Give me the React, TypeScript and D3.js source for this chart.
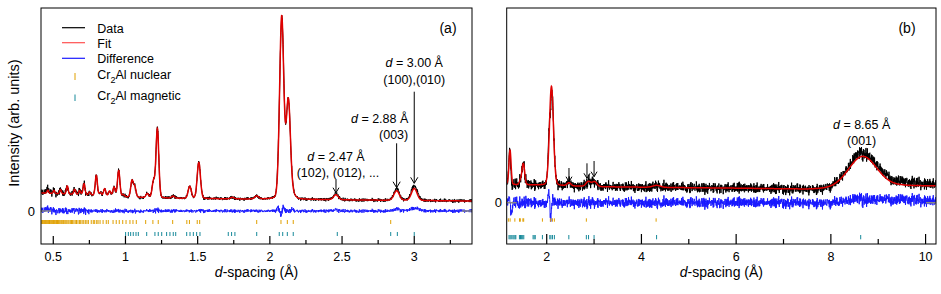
import React, { useMemo } from 'react';
import * as d3 from 'd3';

const W = 941;
const H = 294;
const FONT = '"Liberation Sans", Arial, Helvetica, sans-serif';

// ---------- Panel (a): Bragg peaks (d-spacing in Å, height in arb. units above background)
const peaksA_d = [0.462, 0.505, 0.55, 0.597, 0.648, 0.683, 0.713, 0.752, 0.798, 0.826, 0.856, 0.891, 0.921, 0.953, 0.985, 1.045, 1.064, 1.151, 1.194, 1.221, 1.33, 1.445, 1.508, 1.74, 1.909, 2.082, 2.128, 2.165, 2.458, 2.878, 3.0];
const peaksA_h = [3, 3, 4, 8, 5, 4, 11, 3, 20, 3, 7, 5, 9, 26, 2, 16, 10, 4, 16, 69, 2, 12, 36, 1.5, 3, 182, 98, 3, 5, 9.5, 12];
const bgA_d = [0.415, 0.6, 0.8, 1.0, 1.2, 1.5, 1.8, 2.3, 2.6, 3.0, 3.4];
const bgA_v = [18, 17, 15.5, 14, 13, 12.5, 12, 11.5, 11, 10.5, 10];
const residA_d = [0.46, 1.22, 1.5, 2.054, 2.077, 2.094, 2.158, 2.458, 2.878, 3.0];
const residA_h = [1.5, 1.5, 1, 3.4, -5.5, 4.5, 1.7, 1.3, 2, 2.7];
const residA_w = [0.02, 0.01, 0.01, 0.006, 0.005, 0.005, 0.008, 0.012, 0.02, 0.035];

// ---------- Panel (b)
const peaksB_d = [1.225, 1.445, 1.506, 2.1, 2.47, 2.88, 3.01, 4.32, 8.67];
const peaksB_h = [34, 4, 21, 99, 3, 5, 5, 2, 31];
const peaksB_w = [0.022, 0.025, 0.028, 0.042, 0.04, 0.05, 0.05, 0.08, 0.3];
const bgB_d = [1.155, 1.3, 2.0, 3.0, 4.0, 6.0, 7.5, 8.0, 9.5, 10.22];
const bgB_v = [19, 18, 17.5, 16, 15.5, 14.5, 13.5, 14, 17, 16.7];
const residB_d = [1.205, 1.255, 2.04, 2.088, 2.13, 8.6, 9.4];
const residB_h = [8, -12, 13, -18, 4, 1.5, 3];
const residB_w = [0.01, 0.012, 0.012, 0.012, 0.012, 0.25, 0.6];

// ---------- Reflection tick positions (Å)
const nuclearTicks = [0.42, 0.426, 0.431, 0.437, 0.441, 0.447, 0.452, 0.458, 0.463, 0.468, 0.474, 0.479, 0.485, 0.49, 0.496, 0.501, 0.507, 0.512, 0.518, 0.523, 0.529, 0.535, 0.54, 0.546, 0.553, 0.559, 0.566, 0.572, 0.58, 0.587, 0.594, 0.602, 0.609, 0.618, 0.626, 0.634, 0.643, 0.652, 0.661, 0.671, 0.681, 0.69, 0.7, 0.711, 0.722, 0.733, 0.743, 0.763, 0.777, 0.787, 0.801, 0.81, 0.824, 0.845, 0.867, 0.881, 0.914, 0.936, 0.957, 0.981, 1.004, 1.031, 1.052, 1.075, 1.14, 1.19, 1.227, 1.327, 1.425, 1.443, 1.497, 1.514, 1.909, 2.077, 2.121, 2.162, 2.837, 4.31];
const magneticTicks = [1.001, 1.02, 1.036, 1.054, 1.073, 1.089, 1.147, 1.204, 1.227, 1.251, 1.285, 1.308, 1.331, 1.348, 1.424, 1.447, 1.47, 1.493, 1.516, 1.712, 1.735, 1.758, 1.909, 2.065, 2.089, 2.121, 2.162, 2.467, 2.837, 2.883, 3.0, 4.32, 8.63];

// ---------- Axis ticks
const ticksA_major = [0.5, 1, 1.5, 2, 2.5, 3];
const ticksA_minor = [0.75, 1.25, 1.75, 2.25, 2.75, 3.25];
const ticksB_major = [2, 4, 6, 8, 10];
const ticksB_minor = [3, 5, 7, 9];

const COL = {
  data: '#000000',
  fit: '#e00000',
  fitLegend: '#ff5050',
  diff: '#1a1aff',
  nuclear: '#e0a000',
  magnetic: '#17899a',
  zero: '#888888',
};

function mulberry32(a: number) {
  return function () {
    a |= 0;
    a = (a + 0x6d2b79f5) | 0;
    let t = Math.imul(a ^ (a >>> 15), 1 | a);
    t = (t + Math.imul(t ^ (t >>> 7), 61 | t)) ^ t;
    return ((t ^ (t >>> 14)) >>> 0) / 4294967296;
  };
}

function pv(x: number, c: number, h: number, s: number, eta: number) {
  const z = (x - c) / s;
  const g = Math.exp(-0.5 * z * z);
  const l = 1 / (1 + Math.pow((x - c) / (1.1774 * s), 2));
  return h * ((1 - eta) * g + eta * l);
}

type Pt = { d: number; fit: number; data: number; diff: number };

function buildSeries(
  d0: number, d1: number, step: number,
  pd: number[], ph: number[], sig: (i: number, c: number) => number,
  bd: number[], bv: number[],
  rd: number[], rh: number[], rw: number[],
  noiseSd: (d: number, p: number) => number, seed: number
): Pt[] {
  const bg = d3.scaleLinear().domain(bd).range(bv).clamp(true);
  const r = mulberry32(seed);
  const out: Pt[] = [];
  const n = Math.round((d1 - d0) / step);
  for (let k = 0; k <= n; k++) {
    const d = d0 + k * step;
    let p = 0;
    for (let i = 0; i < pd.length; i++) p += pv(d, pd[i], ph[i], sig(i, pd[i]), 0.1);
    let res = 0;
    for (let i = 0; i < rd.length; i++) res += rh[i] * Math.exp(-0.5 * Math.pow((d - rd[i]) / rw[i], 2));
    const fit = bg(d) + p;
    const nz = (r() + r() + r() - 1.5) * 2 * noiseSd(d, p);
    out.push({ d, fit, data: fit + res + nz, diff: res + nz });
  }
  return out;
}

type Panel = { left: number; right: number; top: number; bottom: number };
const PA: Panel = { left: 41, right: 472, top: 8, bottom: 244 };
const PB: Panel = { left: 506.7, right: 936, top: 8, bottom: 244 };

function Arrow({ x, y1, y2, head }: { x: number; y1: number; y2: number; head: number }) {
  return (
    <g stroke="#000" strokeWidth={1} fill="none">
      <line x1={x} x2={x} y1={y1} y2={y2} />
      <path d={`M${x - head * 0.6},${y2 - head} L${x},${y2} L${x + head * 0.6},${y2 - head}`} />
    </g>
  );
}

function Ann({ x, y, dval, fs = 12.5 }: { x: number; y: number; dval: string; fs?: number }) {
  return (
    <text x={x} y={y} textAnchor="middle" fontSize={fs} fontFamily={FONT}>
      <tspan fontStyle="italic">d</tspan>
      {` = ${dval} Å`}
    </text>
  );
}

export default function App() {
  const xA = d3.scaleLinear().domain([0.415, 3.4]).range([PA.left, PA.right]);
  const yA = d3.scaleLinear().domain([-33, 203]).range([PA.bottom, PA.top]);
  const xB = d3.scaleLinear().domain([1.155, 10.22]).range([PB.left, PB.right]);
  const yB = d3.scaleLinear().domain([-41.3, 194.7]).range([PB.bottom, PB.top]);

  const serA = useMemo(
    () =>
      buildSeries(0.415, 3.4, 0.0015, peaksA_d, peaksA_h, (_i, c) => 0.003 + 0.0055 * c,
        bgA_d, bgA_v, residA_d, residA_h, residA_w,
        (d, p) => 0.8 + (d < 0.75 ? 0.8 : 0) + 0.06 * Math.sqrt(Math.max(p, 0)), 12345),
    []
  );
  const serB = useMemo(
    () =>
      buildSeries(1.155, 10.22, 0.004, peaksB_d, peaksB_h, (i) => peaksB_w[i],
        bgB_d, bgB_v, residB_d, residB_h, residB_w,
        (_d, p) => 2.6 + 0.06 * Math.sqrt(Math.max(p, 0)), 67890),
    []
  );

  const mk = (x: any, y: any, key: 'fit' | 'data' | 'diff') =>
    d3.line<Pt>().x((p) => x(p.d)).y((p) => y(p[key]));

  const renderPanel = (
    id: string, P: Panel, x: any, y: any, ser: Pt[],
    major: number[], minor: number[], majLen: number, minLen: number,
    nucRow: [number, number], magRow: [number, number]
  ) => {
    const [d0, d1] = x.domain();
    const inDom = (d: number) => d >= d0 && d <= d1;
    return (
      <g>
        <defs>
          <clipPath id={`clip-${id}`}>
            <rect x={P.left} y={P.top} width={P.right - P.left} height={P.bottom - P.top} />
          </clipPath>
        </defs>
        <g clipPath={`url(#clip-${id})`}>
          <path d={mk(x, y, 'data')(ser) || ''} fill="none" stroke={COL.data} strokeWidth={1} />
          <path d={mk(x, y, 'fit')(ser) || ''} fill="none" stroke={COL.fit} strokeWidth={1.5} />
          <path d={mk(x, y, 'diff')(ser) || ''} fill="none" stroke={COL.diff} strokeWidth={1} />
          {nuclearTicks.filter(inDom).map((d, i) => (
            <line key={'n' + i} x1={x(d)} x2={x(d)} y1={y(nucRow[0])} y2={y(nucRow[1])} stroke={COL.nuclear} strokeWidth={1} />
          ))}
          {magneticTicks.filter(inDom).map((d, i) => (
            <line key={'m' + i} x1={x(d)} x2={x(d)} y1={y(magRow[0])} y2={y(magRow[1])} stroke={COL.magnetic} strokeWidth={1} />
          ))}
        </g>
        {/* zero markers */}
        <line x1={P.left} x2={P.left + 10} y1={y(0)} y2={y(0)} stroke={COL.zero} strokeWidth={1.5} />
        <line x1={P.right - 10} x2={P.right} y1={y(0)} y2={y(0)} stroke={COL.zero} strokeWidth={1.5} />
        {/* frame */}
        <rect x={P.left} y={P.top} width={P.right - P.left} height={P.bottom - P.top} fill="none" stroke="#000" strokeWidth={1} />
        {/* x ticks */}
        {major.map((t) => (
          <g key={'M' + t}>
            <line x1={x(t)} x2={x(t)} y1={P.bottom} y2={P.bottom - majLen} stroke="#000" strokeWidth={1.2} />
            <text x={x(t)} y={261} textAnchor="middle" fontSize={12.5} fontFamily={FONT}>{d3.format('')(t)}</text>
          </g>
        ))}
        {minor.map((t) => (
          <line key={'m' + t} x1={x(t)} x2={x(t)} y1={P.bottom} y2={P.bottom - minLen} stroke="#000" strokeWidth={1.2} />
        ))}
        <text x={(P.left + P.right) / 2} y={277} textAnchor="middle" fontSize={14} fontFamily={FONT}>
          <tspan fontStyle="italic">d</tspan>-spacing (Å)
        </text>
      </g>
    );
  };

  const legY = [27.7, 42.7, 58.3];
  const legLabels = ['Data', 'Fit', 'Difference'];
  const legCols = [COL.data, COL.fitLegend, COL.diff];

  return (
    <svg width={W} height={H} style={{ position: 'absolute', left: 0, top: 0, background: '#fff' }} fontFamily={FONT}>
      <rect x={0} y={0} width={W} height={H} fill="#fff" />
      {renderPanel('a', PA, xA, yA, serA, ticksA_major, ticksA_minor, 8, 4, [-9, -13], [-21, -25])}
      {renderPanel('b', PB, xB, yB, serB, ticksB_major, ticksB_minor, 10, 5, [-15.6, -19], [-32.3, -36.6])}

      {/* y label & zeros */}
      <text transform="translate(19,123) rotate(-90)" textAnchor="middle" fontSize={14.5} fontFamily={FONT}>Intensity (arb. units)</text>
      <text x={35} y={yA(0) + 4.7} textAnchor="end" fontSize={13} fontFamily={FONT}>0</text>
      <text x={502} y={yB(0) + 4.7} textAnchor="end" fontSize={13} fontFamily={FONT}>0</text>

      {/* legend */}
      {legLabels.map((l, i) => (
        <g key={l}>
          <line x1={62} x2={85} y1={legY[i]} y2={legY[i]} stroke={legCols[i]} strokeWidth={1.2} />
          <text x={97.3} y={legY[i] + 4.8} fontSize={12.5} fontFamily={FONT}>{l}</text>
        </g>
      ))}
      <line x1={75} x2={75} y1={73} y2={80} stroke={COL.nuclear} strokeWidth={1} />
      <text x={97.3} y={78.5} fontSize={12.5} fontFamily={FONT}>
        Cr<tspan fontSize={9} dy={4}>2</tspan><tspan dy={-4}>Al nuclear</tspan>
      </text>
      <line x1={75} x2={75} y1={94.5} y2={101} stroke={COL.magnetic} strokeWidth={1} />
      <text x={97.3} y={99.5} fontSize={12.5} fontFamily={FONT}>
        Cr<tspan fontSize={9} dy={4}>2</tspan><tspan dy={-4}>Al magnetic</tspan>
      </text>

      {/* panel labels */}
      <text x={448} y={33} textAnchor="middle" fontSize={14} fontFamily={FONT}>(a)</text>
      <text x={907} y={33} textAnchor="middle" fontSize={14} fontFamily={FONT}>(b)</text>

      {/* annotations (a) */}
      <Ann x={xA(2.458)} y={yA(50.3)} dval="2.47" />
      <text x={xA(2.458) + 2} y={yA(34.3)} textAnchor="middle" fontSize={12.5} fontFamily={FONT}>(102), (012), ...</text>
      <Arrow x={xA(2.458)} y1={yA(31)} y2={yA(18.3)} head={5} />

      <Ann x={xA(2.878) - 17} y={yA(87.7)} dval="2.88" />
      <text x={xA(2.878) - 3} y={yA(71.7)} textAnchor="middle" fontSize={12.5} fontFamily={FONT}>(003)</text>
      <Arrow x={xA(2.878)} y1={yA(67.7)} y2={yA(23.3)} head={6} />

      <Ann x={xA(3.0)} y={yA(144.3)} dval="3.00" />
      <text x={xA(3.0)} y={yA(126.7)} textAnchor="middle" fontSize={12.5} fontFamily={FONT}>(100),(010)</text>
      <Arrow x={xA(3.0)} y1={yA(119.3)} y2={yA(27.7)} head={6} />

      {/* annotations (b) */}
      <Arrow x={xB(2.47)} y1={yB(34.7)} y2={yB(21)} head={5} />
      <Arrow x={xB(2.85)} y1={yB(39.4)} y2={yB(24.4)} head={5} />
      <Arrow x={xB(3.0)} y1={yB(41.7)} y2={yB(26)} head={5} />
      <Ann x={xB(8.65)} y={yB(74)} dval="8.65" />
      <text x={xB(8.65)} y={yB(57.5)} textAnchor="middle" fontSize={12.5} fontFamily={FONT}>(001)</text>
    </svg>
  );
}
